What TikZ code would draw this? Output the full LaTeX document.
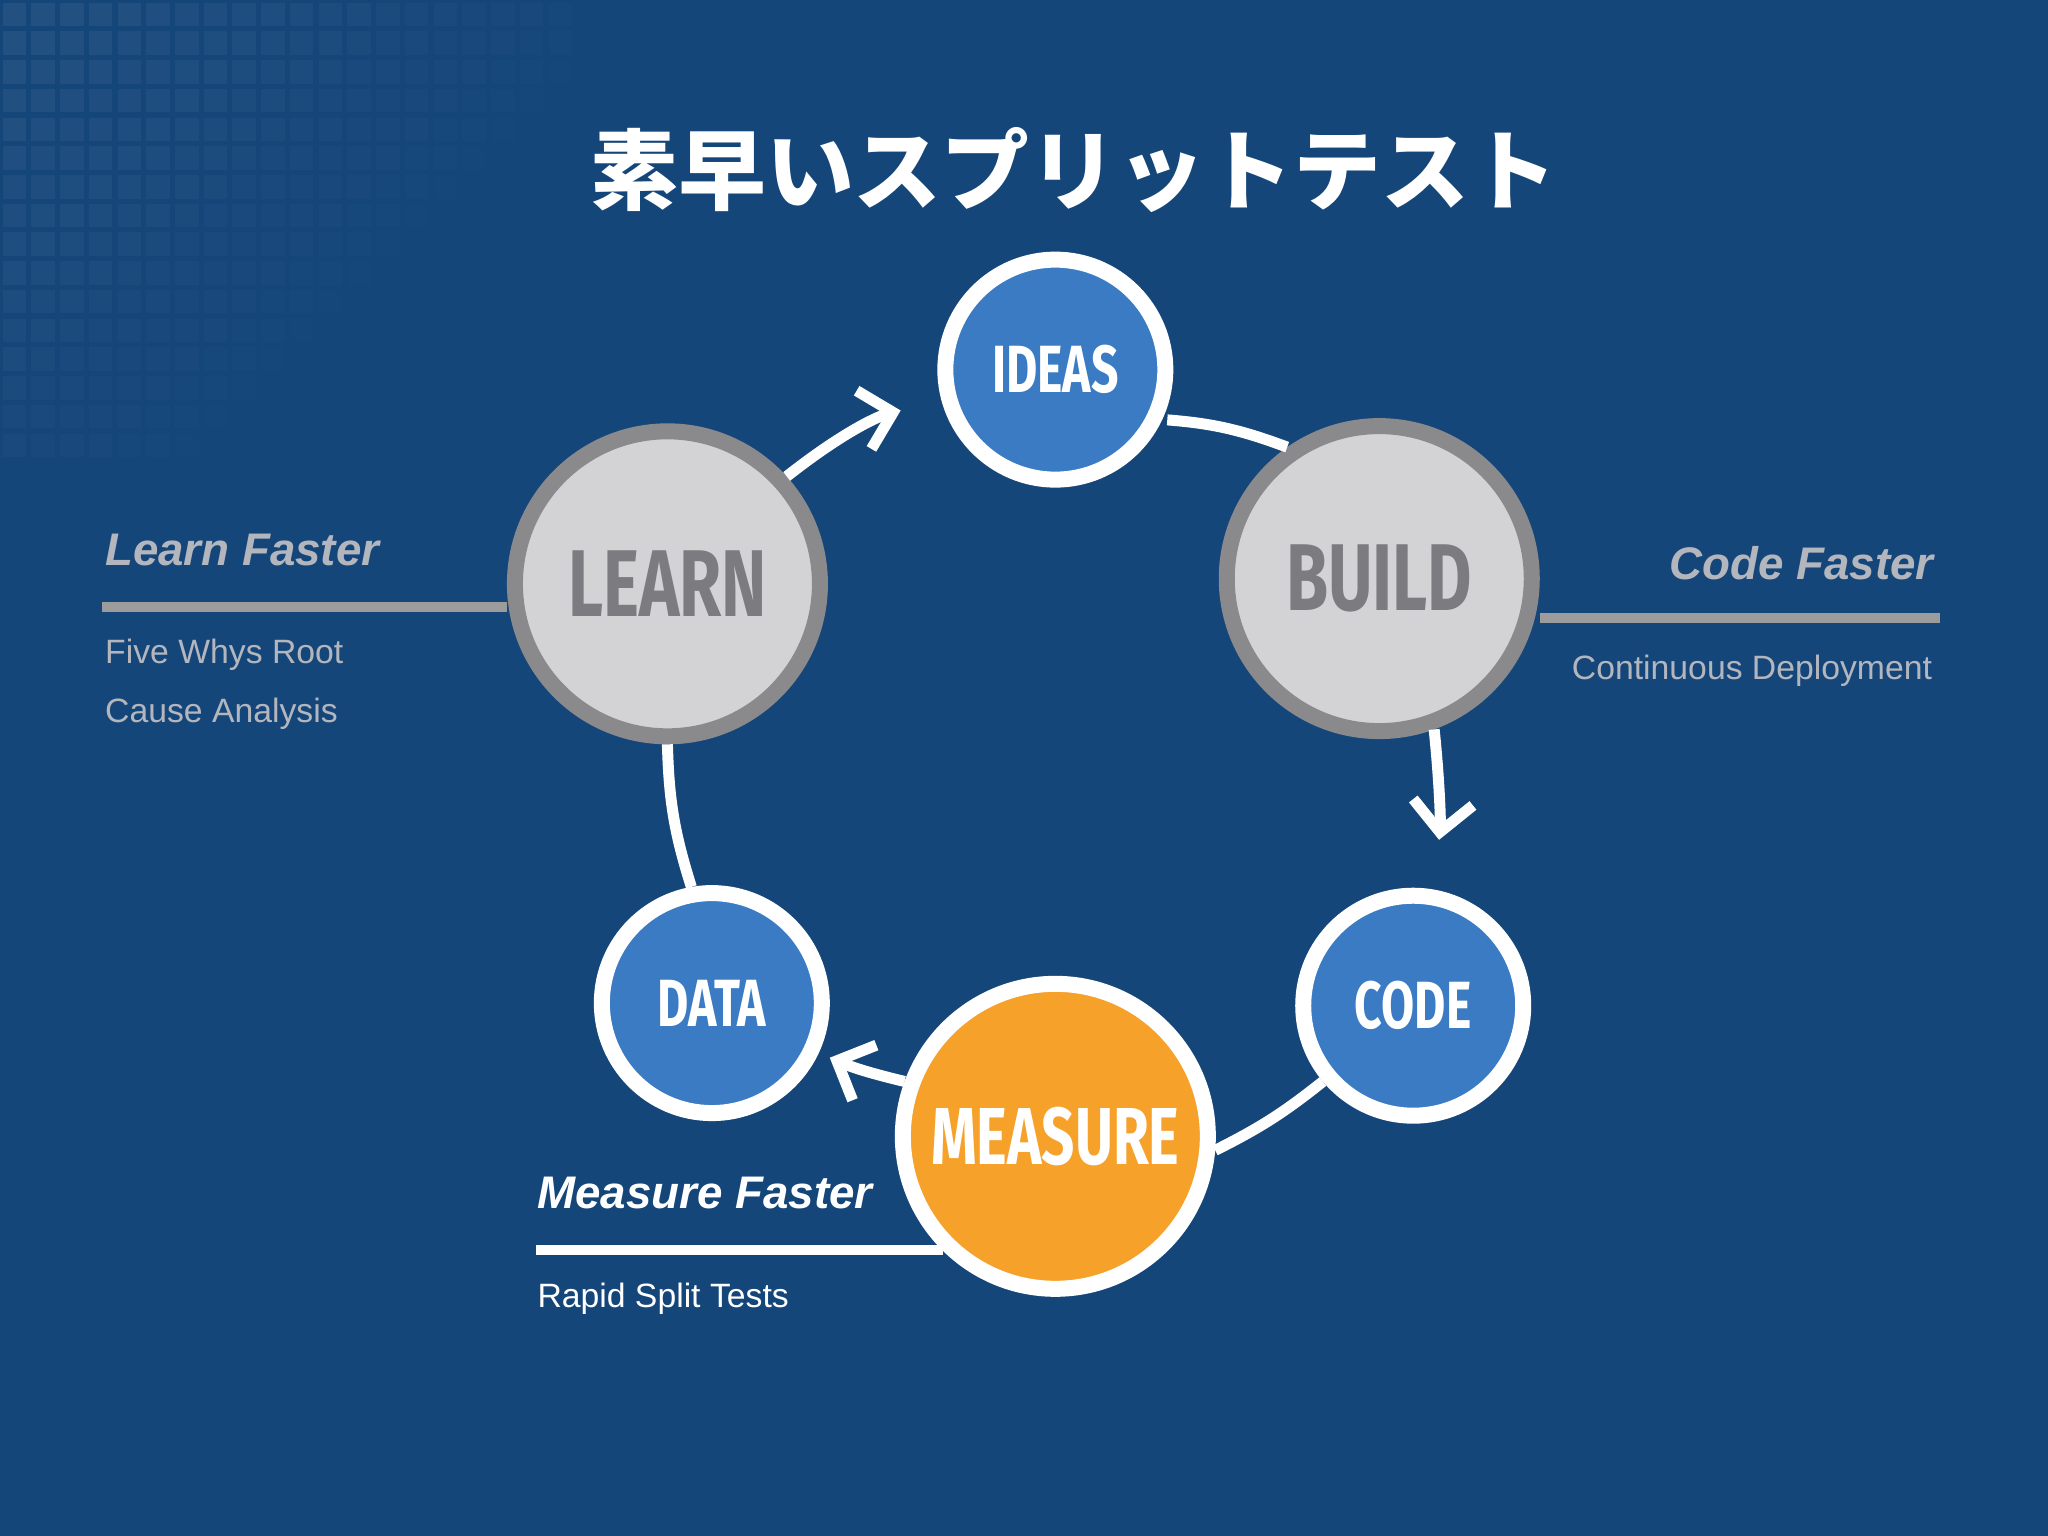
\documentclass[tikz,border=0pt]{standalone}
\usepackage{fontspec}
\setmainfont{Liberation Sans}
\newfontfamily\cjk{Noto Sans CJK JP}
\newfontfamily\cond[FakeStretch=0.72]{Fira Sans}
\usetikzlibrary{arrows.meta}
\definecolor{bg}{HTML}{15467A}
\definecolor{bluec}{HTML}{3A7BC4}
\definecolor{grayc}{HTML}{D3D2D4}
\definecolor{grayb}{HTML}{8A8A8C}
\definecolor{grayt}{HTML}{7C7C80}
\definecolor{sidet}{HTML}{B4B6BE}
\definecolor{orangec}{HTML}{F5A12A}
\tikzset{
  small/.style={circle,fill=bluec,draw=white,line width=1.6mm,minimum size=2.2cm,text=white,font=\cond\bfseries\fontsize{19}{19}\selectfont,inner sep=0pt},
  big/.style={circle,fill=grayc,draw=grayb,line width=1.6mm,minimum size=3.05cm,text=grayt,font=\cond\bfseries\fontsize{27}{27}\selectfont,inner sep=0pt},
  conn/.style={draw=white,line width=1.1mm},
  arr/.style={conn,-{Straight Barb[length=3mm,width=6mm,line width=1.1mm]}},
  headt/.style={font=\bfseries\itshape\fontsize{13}{13}\selectfont,anchor=base west,inner sep=0pt},
  subt/.style={font=\fontsize{9.6}{9.6}\selectfont,anchor=base west,inner sep=0pt},
}
\begin{document}
\begin{tikzpicture}[x=0.01306cm,y=-0.01306cm]
\fill[bg] (0,0) rectangle (1568,1176);
\useasboundingbox (0,0) rectangle (1568,1176);
% faint grid
\foreach \i in {0,...,19}{\foreach \j in {0,...,15}{
  \pgfmathsetmacro{\op}{max(0,0.06-0.0025*(\i+\j))}
  \fill[white,opacity=\op] (\i*22+2,\j*22+2) rectangle ++(18,18);}}
\node[text=white,font=\cjk\bfseries\fontsize{25}{25}\selectfont] (title) at (822,130) {素早いスプリットテスト};
% circles
\node[small] (ideas) at (808,283) {IDEAS};
\node[big] (build) at (1056,443) {BUILD};
\node[big] (learn) at (511,447) {LEARN};
\node[small] (code) at (1082,770) {CODE};
\node[small] (data) at (545,768) {DATA};
\node[big,fill=orangec,draw=white,text=white,font=\cond\bfseries\fontsize{23}{23}\selectfont] (measure) at (808,870) {MEASURE};
% connectors
\draw[arr,shorten >=0.42cm] (learn.42) to[bend left=12] (ideas.195);
\draw[conn,shorten <=0.05cm] (ideas.-25) to[bend left=8] (build.125);
\draw[arr,shorten >=0.5cm] (build.-70) to[bend left=6] (code.80);
\draw[conn] (code.-140) to[bend left=6] (measure.-5);
\draw[arr,shorten >=0.12cm] (measure.160) to[bend left=5] (data.-25);
\draw[conn] (data.100) to[bend left=8] (learn.-90);
% side labels
\coordinate (lf1) at (78,465);
\draw[draw=grayb!85!white,line width=1mm] (lf1) -- (lf1 -| learn.west);
\node[headt,text=sidet] (lf) at (80,433) {Learn Faster};
\node[subt,text=sidet] (lf2) at (80,508) {Five Whys Root};
\node[subt,text=sidet] (lf3) at (80,553) {Cause Analysis};
\coordinate (cf1) at (1485,473);
\draw[draw=grayb!85!white,line width=1mm] (cf1 -| build.east) -- (cf1);
\node[headt,text=sidet,anchor=base east] (cf) at (1481,444) {Code Faster};
\node[subt,text=sidet] (cf2) at (1203,520) {Continuous Deployment};
\coordinate (mf1) at (410,957);
\coordinate (mf2) at (722,957);
\draw[draw=white,line width=1mm] (mf1) -- (mf2);
\node[headt,text=white] (mf) at (411,925) {Measure Faster};
\node[subt,text=white] (mft) at (411,1001) {Rapid Split Tests};
\end{tikzpicture}
\end{document}
